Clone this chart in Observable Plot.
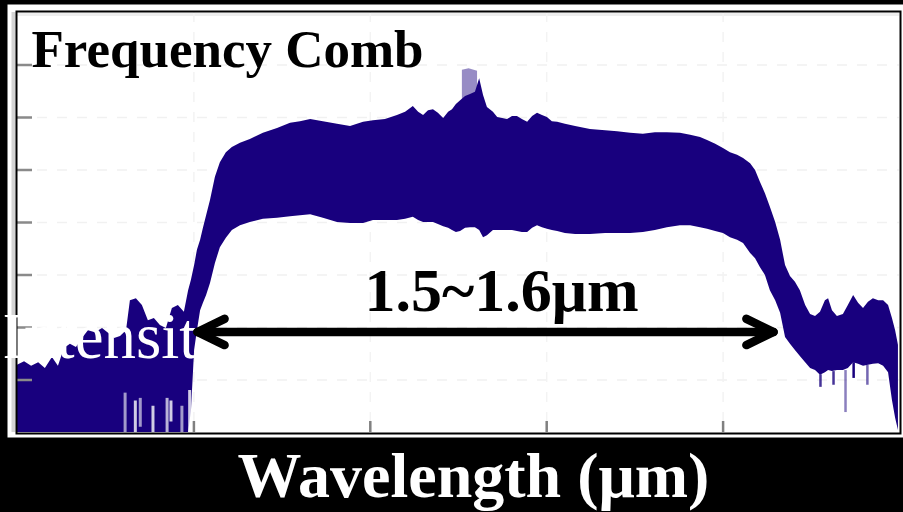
<!DOCTYPE html>
<html>
<head>
<meta charset="utf-8">
<script src="https://cdn.jsdelivr.net/npm/d3@7"></script>
<script src="https://cdn.jsdelivr.net/npm/@observablehq/plot@0.6"></script>
<style>
  html, body { margin: 0; padding: 0; background: #000; }
  #chart { width: 903px; height: 512px; overflow: hidden; }
</style>
</head>
<body>
<div id="chart"></div>
<script>
// ---- Data (wavelength in nm, intensity in dB) ----
const wavelength = [
  1400.0,1402.0,1404.0,1406.0,1407.9,1409.9,1411.6,1413.3,1415.0,1416.7,
  1418.4,1420.1,1422.1,1424.1,1425.8,1427.5,1429.2,1430.9,1432.0,1433.7,
  1435.4,1437.1,1438.8,1440.5,1442.2,1443.9,1445.6,1447.3,1448.5,1449.3,
  1450.2,1451.0,1451.9,1452.7,1453.6,1454.7,1456.1,1457.5,1459.2,1460.9,
  1463.2,1466.0,1469.7,1473.7,1477.4,1480.2,1483.1,1486.7,1490.7,1494.4,
  1498.1,1500.9,1504.3,1507.7,1510.0,1512.2,1513.7,1515.1,1516.5,1517.9,
  1519.3,1520.8,1522.2,1523.3,1524.4,1525.6,1527.0,1528.4,1529.8,1531.0,
  1532.1,1533.2,1534.9,1536.1,1537.5,1538.9,1540.3,1541.7,1543.1,1544.6,
  1546.0,1547.4,1548.8,1550.2,1551.6,1553.1,1555.3,1558.2,1562.4,1566.7,
  1570.1,1573.8,1577.4,1580.8,1584.2,1587.9,1590.8,1593.6,1595.6,1597.9,
  1600.1,1602.1,1604.1,1605.8,1607.8,1609.2,1610.6,1612.0,1613.4,1614.9,
  1616.3,1617.7,1619.1,1620.5,1621.9,1623.4,1624.8,1626.2,1627.6,1629.0,
  1629.9,1631.0,1632.4,1634.1,1635.5,1637.0,1638.4,1639.8,1641.2,1642.6,
  1644.1,1645.5,1646.9,1648.0,1648.9,1649.7
];
const upper = [
  -67.2,-66.5,-67.4,-66.7,-67.8,-65.7,-67.4,-64.0,-63.2,-63.8,
  -62.1,-60.6,-61.0,-60.2,-61.1,-62.1,-61.7,-60.6,-54.9,-54.5,
  -55.8,-58.7,-58.3,-59.6,-60.2,-56.4,-55.8,-57.1,-53.0,-51.0,
  -48.2,-45.3,-43.4,-41.1,-38.7,-35.8,-31.4,-28.6,-26.7,-25.7,
  -24.9,-24.2,-23.0,-22.1,-21.1,-20.8,-20.4,-20.8,-21.3,-21.7,
  -20.9,-20.6,-20.4,-19.6,-19.0,-17.9,-19.0,-19.6,-18.7,-18.5,
  -19.2,-20.2,-19.0,-18.5,-17.5,-16.8,-16.0,-15.6,-15.2,-12.6,
  -15.8,-18.1,-19.0,-20.0,-20.2,-20.4,-19.8,-19.8,-20.4,-20.9,
  -19.8,-19.2,-19.6,-20.0,-20.8,-20.9,-21.3,-21.7,-22.3,-22.5,
  -22.7,-23.0,-23.2,-22.9,-22.9,-23.0,-23.4,-23.8,-24.4,-25.1,
  -25.9,-26.7,-27.2,-27.8,-28.8,-30.1,-32.4,-34.5,-37.1,-40.0,
  -43.4,-48.2,-50.3,-51.4,-53.0,-55.8,-57.5,-57.9,-57.1,-54.9,
  -54.5,-56.8,-57.9,-57.5,-55.8,-53.9,-55.4,-56.4,-55.2,-54.5,
  -54.9,-54.9,-55.8,-58.3,-60.6,-63.4
];
const lower = [
  -80.0,-80.0,-80.0,-80.0,-80.0,-80.0,-80.0,-80.0,-80.0,-80.0,
  -80.0,-80.0,-80.0,-80.0,-80.0,-80.0,-80.0,-80.0,-80.0,-80.0,
  -80.0,-80.0,-80.0,-80.0,-80.0,-80.0,-80.0,-80.0,-80.0,-76.0,
  -64.4,-60.6,-56.8,-55.4,-53.9,-51.6,-47.8,-44.8,-43.0,-41.5,
  -40.6,-40.0,-39.4,-39.2,-38.9,-38.7,-38.5,-39.2,-40.0,-40.2,
  -40.2,-39.6,-39.6,-39.6,-39.4,-39.0,-39.6,-40.0,-40.0,-40.0,
  -40.4,-40.8,-41.1,-41.5,-41.9,-41.7,-41.1,-41.0,-41.0,-41.5,
  -42.9,-42.5,-41.5,-41.5,-41.5,-41.5,-41.5,-41.7,-41.9,-41.9,
  -41.1,-40.6,-41.0,-41.3,-41.5,-41.7,-42.1,-42.3,-42.3,-42.1,
  -42.1,-42.1,-41.9,-41.5,-41.0,-40.6,-40.6,-41.0,-41.3,-41.7,
  -42.1,-42.9,-43.4,-44.0,-45.9,-46.9,-48.6,-50.1,-53.0,-54.9,
  -57.3,-61.9,-63.2,-64.4,-65.5,-66.7,-67.8,-68.2,-69.1,-68.6,
  -68.2,-68.4,-68.2,-68.2,-67.8,-66.7,-67.0,-67.4,-67.2,-67.0,
  -66.9,-67.4,-68.6,-73.9,-77.3,-79.6
];

// light gaps in the noisy short-wavelength floor
const gapWl    = [1430.5, 1433.4, 1434.8, 1438.4, 1442.4, 1443.5, 1446.6, 1448.8];
const gapFrom  = [-72.5, -74.0, -73.5, -75.0, -73.5, -74.0, -75.0, -72.0];
const gapTo    = [-80.0, -80.0, -79.0, -80.0, -80.0, -78.0, -80.0, -80.0];
const gapAlpha = [0.6, 0.8, 0.6, 0.8, 0.7, 0.8, 0.6, 0.8];

// noise spikes hanging below the long-wavelength floor
const spikeWl    = [1627.6, 1631.3, 1634.7, 1637.0, 1640.9];
const spikeFrom  = [-69.0, -68.4, -68.2, -66.7, -67.2];
const spikeTo    = [-71.4, -71.0, -76.2, -69.7, -71.0];
const spikeAlpha = [0.8, 0.8, 0.5, 1, 0.6];

// faint peak above the comb centre
const peakWl    = [1526.1, 1528.0, 1530.4];
const peakUpper = [-11.0, -10.7, -11.2];
const peakLower = [-16.8, -16.0, -15.2];

// axis ticks (no labels in the reference)
const xTicks = [1450, 1500, 1550, 1600];
const yTicks = [-70, -60, -50, -40, -30, -20, -10];

// annotation
const titleText = "Frequency Comb";
const spanText = "1.5~1.6\u03bcm";
const sideText = "Intensit";
const xLabel = "Wavelength (\u03bcm)";
const arrowFrom = 1451.0, arrowTo = 1614.3, arrowLevel = -60.85;
const headLen = 7.7, headHalf = 2.5;
const spanLabelX = 1537.2, spanLabelY = -53.0;
const sideLabelX = 1451.0, sideLabelY = -61.8;

// ---- build tables ----
const band = wavelength.map((w, i) => ({w, up: upper[i], lo: lower[i]}));
const gaps = gapWl.map((w, i) => ({w, a: gapFrom[i], b: gapTo[i], o: gapAlpha[i]}));
const spikes = spikeWl.map((w, i) => ({w, a: spikeFrom[i], b: spikeTo[i], o: spikeAlpha[i]}));
const peak = peakWl.map((w, i) => ({w, up: peakUpper[i], lo: peakLower[i]}));
const arrow = [
  {g: "shaft", x: arrowFrom, y: arrowLevel}, {g: "shaft", x: arrowTo, y: arrowLevel},
  {g: "L", x: arrowFrom + headLen, y: arrowLevel + headHalf}, {g: "L", x: arrowFrom, y: arrowLevel}, {g: "L", x: arrowFrom + headLen, y: arrowLevel - headHalf},
  {g: "R", x: arrowTo - headLen, y: arrowLevel + headHalf}, {g: "R", x: arrowTo, y: arrowLevel}, {g: "R", x: arrowTo - headLen, y: arrowLevel - headHalf}
];

const navy = "#18007e";
const serif = "'Liberation Serif', 'Times New Roman', serif";

const chart = Plot.plot({
  width: 903,
  height: 512,
  marginLeft: 17,
  marginRight: 4,
  marginTop: 12,
  marginBottom: 80,
  x: {domain: [1400, 1650], axis: null},
  y: {domain: [-80, 0], axis: null},
  style: {background: "#000", overflow: "visible"},
  marks: [
    Plot.frame({fill: "#fff", insetLeft: -10, insetTop: -8, insetRight: -4, insetBottom: -5}),
    Plot.ruleX([1400], {stroke: "#d4d4d4", strokeWidth: 4, dx: -4}),
    Plot.ruleY([0], {stroke: "#eeeeee", strokeWidth: 3, dy: 2}),
    Plot.ruleY(yTicks, {stroke: "#f1f1f1", strokeWidth: 1.5, strokeDasharray: "10,10"}),
    Plot.ruleX(xTicks, {stroke: "#f3f3f3", strokeWidth: 1.5, strokeDasharray: "10,10"}),
    Plot.areaY(peak, {x: "w", y1: "lo", y2: "up", fill: navy, fillOpacity: 0.45}),
    Plot.areaY(band, {x: "w", y1: "lo", y2: "up", fill: navy}),
    Plot.ruleX(gaps, {x: "w", y1: "a", y2: "b", stroke: "#ffffff", strokeWidth: 3, strokeOpacity: "o"}),
    Plot.ruleX(spikes, {x: "w", y1: "a", y2: "b", stroke: navy, strokeWidth: 2.5, strokeOpacity: "o"}),
    Plot.ruleX(xTicks, {insetTop: 409, stroke: "#808080", strokeWidth: 2.5}),
    Plot.ruleY(yTicks, {insetRight: 867, stroke: "#8a8a8a", strokeWidth: 2.5}),
    Plot.frame({stroke: "#000", strokeWidth: 2, inset: -1}),
    Plot.text([titleText], {frameAnchor: "top-left", lineAnchor: "middle", textAnchor: "start", dx: 14, dy: 38,
      fontSize: 53, fontWeight: "bold", fontFamily: serif, fill: "#000"}),
    Plot.text([sideText], {x: sideLabelX, y: sideLabelY, textAnchor: "end", lineAnchor: "middle",
      fontSize: 65, fontFamily: serif, fill: "#fff"}),
    Plot.line(arrow, {x: "x", y: "y", z: "g", stroke: "#000", strokeWidth: 8.5, strokeLinecap: "round", strokeLinejoin: "round"}),
    Plot.text([spanText], {x: spanLabelX, y: spanLabelY, textAnchor: "middle", lineAnchor: "middle",
      fontSize: 62, fontWeight: "bold", fontFamily: serif, fill: "#000"}),
    Plot.text([xLabel], {frameAnchor: "bottom", lineAnchor: "middle", dx: 15, dy: 44.5,
      fontSize: 64, fontWeight: "bold", fontFamily: serif, fill: "#fff"})
  ]
});
document.getElementById("chart").appendChild(chart);
</script>
</body>
</html>
